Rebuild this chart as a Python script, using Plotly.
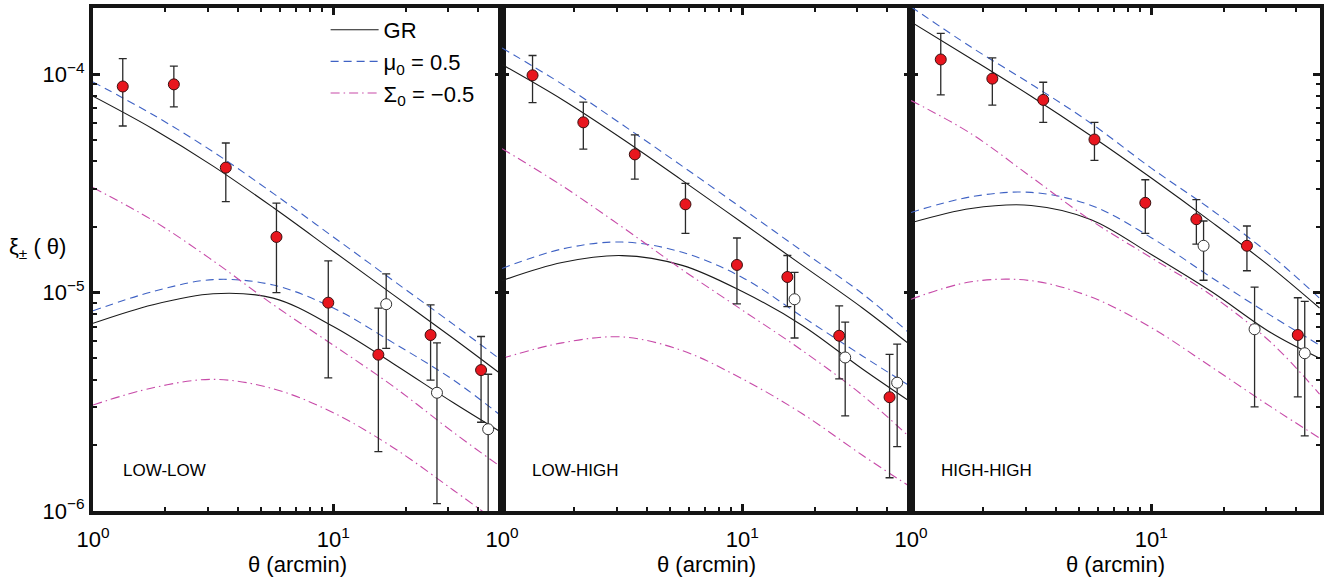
import numpy as np
import plotly.graph_objects as go

# ---------------- data ----------------
theta_model = [1.0, 1.778, 3.162, 5.623, 10.0, 17.78, 31.62, 50.12]

# LOW-LOW model curves
ll_gr_plus = [7.94e-5, 5.62e-5, 3.80e-5, 2.455e-5, 1.549e-5, 9.77e-6, 6.17e-6, 4.22e-6]
ll_gr_minus = [7.24e-6, 8.81e-6, 9.89e-6, 9.44e-6, 7.00e-6, 4.73e-6, 3.13e-6, 2.29e-6]
ll_mu_plus = [9.23e-5, 6.53e-5, 4.42e-5, 2.85e-5, 1.80e-5, 1.135e-5, 7.16e-6, 4.90e-6]
ll_mu_minus = [8.26e-6, 1.012e-5, 1.148e-5, 1.084e-5, 8.51e-6, 5.89e-6, 3.98e-6, 2.72e-6]
ll_sig_plus = [3.03e-5, 2.14e-5, 1.40e-5, 8.81e-6, 5.75e-6, 3.72e-6, 2.29e-6, 1.585e-6]
ll_sig_minus = [3.06e-6, 3.67e-6, 4.01e-6, 3.63e-6, 2.82e-6, 1.95e-6, 1.245e-6, 8.61e-7]

# LOW-HIGH model curves
lh_gr_plus = [1.109e-4, 7.67e-5, 5.07e-5, 3.27e-5, 2.09e-5, 1.334e-5, 8.51e-6, 5.75e-6]
lh_gr_minus = [1.135e-5, 1.374e-5, 1.479e-5, 1.334e-5, 1.012e-5, 7.08e-6, 4.47e-6, 3.16e-6]
lh_mu_plus = [1.321e-4, 9.02e-5, 5.89e-5, 3.80e-5, 2.43e-5, 1.549e-5, 9.89e-6, 6.46e-6]
lh_mu_minus = [1.291e-5, 1.585e-5, 1.706e-5, 1.531e-5, 1.175e-5, 7.76e-6, 5.13e-6, 3.72e-6]
lh_sig_plus = [4.57e-5, 3.09e-5, 2.00e-5, 1.274e-5, 8.32e-6, 5.43e-6, 3.39e-6, 2.16e-6]
lh_sig_minus = [5.00e-6, 5.89e-6, 6.27e-6, 5.43e-6, 4.03e-6, 2.79e-6, 1.80e-6, 1.288e-6]

# HIGH-HIGH model curves
hh_gr_plus = [1.738e-4, 1.18e-4, 7.94e-5, 5.22e-5, 3.35e-5, 2.11e-5, 1.303e-5, 8.51e-6]
hh_gr_minus = [2.09e-5, 2.43e-5, 2.51e-5, 2.16e-5, 1.496e-5, 1.012e-5, 6.53e-6, 5.01e-6]
hh_mu_plus = [2.04e-4, 1.334e-4, 9.02e-5, 5.96e-5, 3.72e-5, 2.40e-5, 1.479e-5, 9.44e-6]
hh_mu_minus = [2.33e-5, 2.75e-5, 2.88e-5, 2.51e-5, 1.786e-5, 1.175e-5, 7.83e-6, 5.75e-6]
hh_sig_plus = [7.59e-5, 5.35e-5, 3.39e-5, 2.14e-5, 1.445e-5, 9.73e-6, 5.89e-6, 3.43e-6]
hh_sig_minus = [9.33e-6, 1.122e-5, 1.135e-5, 9.55e-6, 6.92e-6, 4.57e-6, 2.99e-6, 2.16e-6]

# measured xi_+ (filled red) and xi_- (open) points
ll_theta_p = [1.33, 2.17, 3.57, 5.8, 9.53, 15.4, 25.4, 41.2]
ll_xi_p = [8.8e-5, 9.0e-5, 3.74e-5, 1.8e-5, 9.0e-6, 5.2e-6, 6.4e-6, 4.42e-6]
ll_xi_p_hi = [1.18e-4, 1.09e-4, 4.85e-5, 2.57e-5, 1.40e-5, 8.5e-6, 8.79e-6, 6.3e-6]
ll_xi_p_lo = [5.8e-5, 7.1e-5, 2.61e-5, 1.0e-5, 4.07e-6, 1.87e-6, 3.98e-6, 2.55e-6]
ll_theta_m = [16.6, 27.0, 44.1]
ll_xi_m = [8.86e-6, 3.48e-6, 2.37e-6]
ll_xi_m_hi = [1.22e-5, 5.89e-6, 4.23e-6]
ll_xi_m_lo = [5.56e-6, 1.08e-6, 8.0e-7]

lh_theta_p = [1.34, 2.18, 3.57, 5.8, 9.5, 15.4, 25.3, 41.0]
lh_xi_p = [9.9e-5, 6.03e-5, 4.3e-5, 2.54e-5, 1.34e-5, 1.18e-5, 6.35e-6, 3.32e-6]
lh_xi_p_hi = [1.22e-4, 7.46e-5, 5.28e-5, 3.17e-5, 1.78e-5, 1.48e-5, 8.71e-6, 5.22e-6]
lh_xi_p_lo = [7.43e-5, 4.55e-5, 3.31e-5, 1.87e-5, 8.89e-6, 8.63e-6, 4.03e-6, 1.42e-6]
lh_theta_m = [16.5, 26.8, 44.1]
lh_xi_m = [9.33e-6, 5.05e-6, 3.87e-6]
lh_xi_m_hi = [1.24e-5, 7.33e-6, 5.81e-6]
lh_xi_m_lo = [6.2e-6, 2.73e-6, 1.97e-6]

hh_theta_p = [1.33, 2.18, 3.55, 5.8, 9.44, 15.4, 25.0, 40.7]
hh_xi_p = [1.17e-4, 9.56e-5, 7.64e-5, 5.03e-5, 2.58e-5, 2.17e-5, 1.64e-5, 6.4e-6]
hh_xi_p_hi = [1.54e-4, 1.19e-4, 9.2e-5, 6.03e-5, 3.29e-5, 2.67e-5, 2.02e-5, 9.48e-6]
hh_xi_p_lo = [8.05e-5, 7.23e-5, 6.03e-5, 4.04e-5, 1.87e-5, 1.67e-5, 1.26e-5, 3.33e-6]
hh_theta_m = [16.5, 26.9, 43.5]
hh_xi_m = [1.64e-5, 6.8e-6, 5.28e-6]
hh_xi_m_hi = [2.13e-5, 1.06e-5, 9.12e-6]
hh_xi_m_lo = [1.14e-5, 3.0e-6, 2.21e-6]

panel_labels = ["LOW-LOW", "LOW-HIGH", "HIGH-HIGH"]
model_names = ["GR", "μ<sub>0</sub> = 0.5", "Σ<sub>0</sub> = −0.5"]
y_tickvals = [1e-6, 1e-5, 1e-4]
y_ticktext = ["10<sup>−6</sup>", "10<sup>−5</sup>", "10<sup>−4</sup>"]
x_tickvals = [1, 10]
x_ticktext = ["10<sup>0</sup>", "10<sup>1</sup>"]

# ---------------- build ----------------
panels = [
    dict(models=[(ll_gr_plus, ll_gr_minus), (ll_mu_plus, ll_mu_minus), (ll_sig_plus, ll_sig_minus)],
         p=(ll_theta_p, ll_xi_p, ll_xi_p_hi, ll_xi_p_lo), m=(ll_theta_m, ll_xi_m, ll_xi_m_hi, ll_xi_m_lo)),
    dict(models=[(lh_gr_plus, lh_gr_minus), (lh_mu_plus, lh_mu_minus), (lh_sig_plus, lh_sig_minus)],
         p=(lh_theta_p, lh_xi_p, lh_xi_p_hi, lh_xi_p_lo), m=(lh_theta_m, lh_xi_m, lh_xi_m_hi, lh_xi_m_lo)),
    dict(models=[(hh_gr_plus, hh_gr_minus), (hh_mu_plus, hh_mu_minus), (hh_sig_plus, hh_sig_minus)],
         p=(hh_theta_p, hh_xi_p, hh_xi_p_hi, hh_xi_p_lo), m=(hh_theta_m, hh_xi_m, hh_xi_m_hi, hh_xi_m_lo)),
]

line_styles = [
    dict(color="#1a1a1a", width=1.1, dash="solid"),
    dict(color="#3f62c4", width=1.1, dash="8px,5px"),
    dict(color="#c74aa8", width=1.1, dash="9px,4px,1.5px,4px"),
]

fig = go.Figure()
for i, pan in enumerate(panels):
    sx = "" if i == 0 else str(i + 1)
    xa, ya = "x" + sx, "y" + sx
    for j, (plus, minus) in enumerate(pan["models"]):
        for k, vals in enumerate((plus, minus)):
            fig.add_trace(go.Scatter(
                x=theta_model, y=vals, mode="lines", line=dict(shape="spline", smoothing=1.0, **line_styles[j]),
                name=model_names[j], legendgroup=model_names[j],
                showlegend=(i == 0 and k == 0), xaxis=xa, yaxis=ya, hoverinfo="skip"))
    for key, fill, edge in (("p", "#e8161e", "#3a1010"), ("m", "white", "#333333")):
        th, v, hi, lo = pan[key]
        v = np.array(v); hi = np.array(hi); lo = np.array(lo)
        fig.add_trace(go.Scatter(
            x=th, y=v, mode="markers", showlegend=False, xaxis=xa, yaxis=ya,
            marker=dict(size=11, color=fill, line=dict(color=edge, width=1)),
            error_y=dict(type="data", symmetric=False, array=hi - v, arrayminus=v - lo,
                         color="#2a2a2a", thickness=1.3, width=4)))

ax_common = dict(showline=True, linecolor="#151515", linewidth=4, mirror="allticks",
                 ticks="inside", tickcolor="#151515", showgrid=False, zeroline=False)

x_minor = [2, 3, 4, 5, 6, 7, 8, 9, 20, 30, 40, 50]
y_minor = [k * 1e-6 for k in range(2, 10)] + [k * 1e-5 for k in range(2, 10)] + [2e-4]

doms = [(0.0, 1 / 3), (1 / 3, 2 / 3), (2 / 3, 1.0)]
layout = dict(
    width=1328, height=582, margin=dict(l=93, r=6, t=4, b=71),
    paper_bgcolor="white", plot_bgcolor="white",
    font=dict(family="Liberation Sans, Arial, Helvetica, sans-serif", size=22, color="black"),
    legend=dict(x=(326 - 93) / 1229, y=1 - (5 - 4) / 507, xanchor="left", yanchor="top",
                bgcolor="rgba(0,0,0,0)", font=dict(size=22), itemwidth=48, tracegroupgap=0),
)
for i in range(3):
    sx = "" if i == 0 else str(i + 1)
    layout["xaxis" + sx] = dict(
        type="log", range=[0, 1.702], domain=doms[i], anchor="y" + sx,
        tickvals=x_tickvals, ticktext=x_ticktext, ticklen=7, tickwidth=3,
        tickfont=dict(size=22), ticklabelstandoff=6,
        minor=dict(ticks="inside", tickvals=x_minor, ticklen=4, tickwidth=2, tickcolor="#151515", showgrid=False),
        title=dict(text="θ (arcmin)", font=dict(size=22), standoff=3),
        **ax_common)
    layout["yaxis" + sx] = dict(
        type="log", range=[-6, -3.696], domain=[0, 1], anchor="x" + sx,
        tickvals=y_tickvals, ticktext=y_ticktext, ticklen=7, tickwidth=3,
        showticklabels=(i == 0), tickfont=dict(size=22),
        minor=dict(ticks="inside", tickvals=y_minor, ticklen=4, tickwidth=2, tickcolor="#151515", showgrid=False),
        **ax_common)
fig.update_layout(**layout)

for i, lab in enumerate(panel_labels):
    sx = "" if i == 0 else str(i + 1)
    fig.add_annotation(text=lab, xref="x" + sx + " domain", yref="y" + sx + " domain",
                       x=28 / 409.7, y=1 - (470 - 4) / 507, xanchor="left", yanchor="middle",
                       showarrow=False, font=dict(size=17, family="Liberation Sans, Arial, sans-serif"))

fig.add_annotation(text="ξ<sub>±</sub> ( θ)", xref="paper", yref="paper",
                   x=(7 - 93) / 1229, y=1 - (246 - 4) / 507, xanchor="left", yanchor="middle",
                   showarrow=False, font=dict(size=22))

fig.write_html("out.html", config={"displayModeBar": False},
               post_script="document.body.style.margin='0px';")
